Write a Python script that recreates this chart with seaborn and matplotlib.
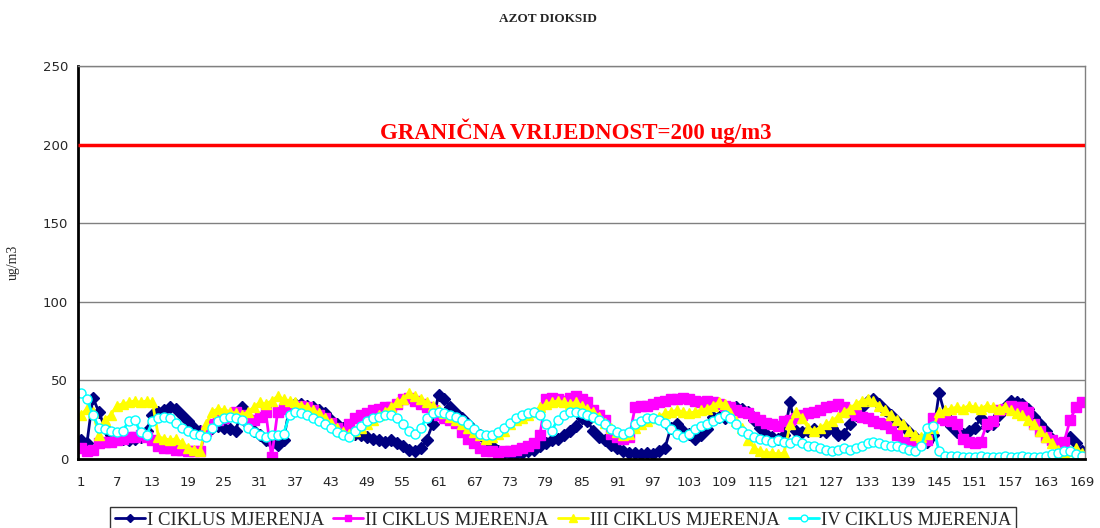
"""
AZOT DIOKSID - four measurement cycles vs. limit value.

Run: python plot.py
"""
import matplotlib
matplotlib.use("Agg")
import matplotlib.pyplot as plt
import numpy as np
import pandas as pd
import seaborn as sns

TITLE = "AZOT DIOKSID"
Y_LABEL = "ug/m3"
LIMIT = 200
LIMIT_TEXT = "GRANIČNA VRIJEDNOST=200 ug/m3"

series_names = ["I CIKLUS MJERENJA", "II CIKLUS MJERENJA",
                "III CIKLUS MJERENJA", "IV CIKLUS MJERENJA"]

cycle1 = [12, 10, 39, 30, 20, 15, 14, 13, 12, 13, 14, 18, 28, 30, 31, 33, 32, 28, 24, 20,
          18, 18, 20, 21, 20, 19, 18, 33, 22, 18, 15, 12, 10, 9, 12, 33, 35, 35, 34, 33,
          31, 29, 25, 22, 20, 17, 16, 15, 14, 13, 12, 11, 12, 10, 8, 6, 5, 7, 12, 22,
          41, 38, 33, 29, 26, 22, 18, 15, 12, 8, 5, 4, 3, 3, 4, 5, 6, 8, 10, 12,
          13, 15, 18, 21, 26, 24, 18, 14, 12, 9, 7, 5, 4, 4, 3, 4, 3, 5, 7, 20,
          22, 18, 16, 13, 15, 19, 27, 27, 26, 30, 33, 32, 30, 25, 20, 16, 14, 13, 15, 36,
          18, 17, 18, 19, 18, 17, 20, 15, 16, 22, 28, 33, 37, 38, 35, 31, 28, 24, 21, 17,
          14, 12, 11, 15, 42, 28, 21, 17, 16, 18, 20, 26, 21, 22, 28, 33, 37, 36, 35, 32,
          27, 22, 18, 13, 9, 10, 14, 10, 5]
cycle2 = [7, 5, 6, 10, 11, 11, 12, 13, 14, 14, 15, 14, 12, 8, 7, 7, 6, 6, 5, 5,
          5, 18, 22, 25, 26, 28, 30, 28, 25, 25, 27, 30, 1, 30, 32, 33, 33, 34, 33, 31,
          28, 26, 23, 20, 18, 22, 26, 28, 29, 31, 32, 33, 33, 35, 38, 39, 37, 35, 33, 31,
          28, 26, 25, 23, 17, 13, 10, 7, 5, 5, 4, 5, 5, 6, 7, 8, 10, 15, 38, 39,
          38, 37, 39, 40, 38, 36, 31, 28, 25, 16, 14, 13, 14, 33, 34, 34, 35, 36, 37, 38,
          38, 39, 38, 37, 36, 37, 36, 35, 34, 33, 31, 30, 29, 27, 25, 23, 22, 21, 24, 25,
          26, 28, 29, 30, 31, 33, 34, 35, 33, 30, 28, 27, 26, 24, 23, 22, 20, 15, 11, 10,
          9, 11, 12, 26, 26, 25, 24, 22, 13, 11, 10, 11, 22, 24, 31, 32, 34, 33, 33, 30,
          22, 18, 14, 12, 10, 11, 25, 33, 36]
cycle3 = [28, 32, 30, 15, 25, 28, 34, 35, 36, 37, 36, 37, 36, 14, 13, 12, 13, 10, 7, 6,
          5, 22, 30, 32, 31, 30, 29, 28, 30, 33, 36, 35, 37, 40, 38, 37, 36, 34, 33, 31,
          29, 26, 23, 20, 17, 16, 18, 20, 22, 25, 28, 30, 33, 36, 38, 42, 40, 38, 36, 34,
          31, 29, 27, 25, 22, 20, 17, 15, 13, 14, 16, 18, 22, 25, 26, 28, 30, 33, 35, 36,
          37, 36, 35, 36, 34, 32, 30, 27, 23, 20, 17, 15, 16, 20, 22, 24, 26, 27, 29, 30,
          31, 30, 29, 30, 31, 32, 34, 36, 35, 29, 24, 20, 12, 7, 5, 4, 4, 3, 4, 22,
          30, 26, 20, 18, 20, 22, 24, 27, 30, 32, 35, 37, 38, 37, 34, 31, 28, 25, 22, 18,
          15, 14, 16, 20, 30, 31, 32, 33, 32, 34, 33, 32, 34, 33, 32, 33, 31, 29, 28, 25,
          22, 18, 14, 10, 6, 4, 5, 7, 4]
cycle4 = [42, 38, 28, 20, 19, 18, 17, 18, 24, 25, 17, 15, 24, 26, 27, 26, 23, 20, 18, 16,
          15, 14, 20, 24, 26, 27, 26, 25, 20, 17, 15, 14, 15, 15, 16, 28, 30, 29, 28, 26,
          24, 22, 20, 17, 15, 14, 18, 21, 24, 26, 27, 28, 28, 26, 22, 18, 16, 20, 26, 29,
          30, 29, 28, 27, 25, 22, 19, 16, 15, 15, 17, 20, 23, 26, 28, 29, 30, 28, 22, 18,
          25, 28, 30, 30, 29, 28, 27, 25, 22, 19, 17, 16, 17, 22, 24, 26, 26, 25, 23, 19,
          16, 14, 16, 19, 21, 22, 24, 26, 28, 26, 22, 18, 16, 14, 13, 12, 11, 12, 11, 10,
          12, 10, 8, 8, 7, 6, 5, 6, 7, 6, 7, 8, 10, 11, 10, 9, 8, 8, 7, 6,
          5, 8, 20, 21, 5, 2, 2, 2, 1, 1, 1, 2, 1, 1, 1, 2, 1, 1, 2, 1,
          1, 1, 2, 3, 4, 5, 5, 3, 2]

y_ticks = [0, 50, 100, 150, 200, 250]

colors = ["#000080", "#FF00FF", "#FFFF00", "#00FFFF"]
markers = ["D", "s", "^", "o"]
msizes = [6, 6.5, 7.5, 6.5]


def main():
    sns.set_style("white")
    plt.rcParams["font.family"] = ["Liberation Serif", "DejaVu Serif"]

    n = len(cycle1)
    x = np.arange(1, n + 1)
    df = pd.DataFrame({"mjerenje": x, series_names[0]: cycle1, series_names[1]: cycle2,
                       series_names[2]: cycle3, series_names[3]: cycle4})

    fig = plt.figure(figsize=(11, 5.28), dpi=100)
    ax = fig.add_axes([0.0709, 0.1307, 0.9155, 0.7443])

    for name, c, m, ms in zip(series_names, colors, markers, msizes):
        face = "white" if m == "o" else c
        sns.lineplot(data=df, x="mjerenje", y=name, ax=ax, color=c, lw=2,
                     marker=m, markersize=ms, markerfacecolor=face,
                     markeredgecolor=c, markeredgewidth=1, label=name)

    ax.hlines(LIMIT, 0.5, n + 0.5, color="red", lw=2.5, zorder=5)
    ax.text(84, 208.5, LIMIT_TEXT, color="red", fontsize=16.5, fontweight="bold",
            ha="center", va="center")

    ax.set_xlim(0.5, n + 0.5)
    ax.set_ylim(0, 250)
    ax.set_yticks(y_ticks)
    ax.yaxis.grid(True, color="#808080", lw=1)
    ax.set_axisbelow(True)

    ax.set_xticks(x[::6])
    ax.set_xticklabels([str(v) for v in x[::6]], fontfamily="DejaVu Sans", fontsize=9.5)
    ax.set_xticks(np.arange(0.5, n + 1), minor=True)
    ax.tick_params(axis="x", which="major", length=0, pad=12)
    ax.tick_params(axis="x", which="minor", length=4, width=1.5, color="black")
    ax.tick_params(axis="y", length=4, width=1.5, color="black", pad=3)
    for lab in ax.get_yticklabels():
        lab.set_fontfamily("DejaVu Sans")
        lab.set_fontsize(9.5)

    for side in ("left", "bottom"):
        ax.spines[side].set_color("black")
        ax.spines[side].set_linewidth(2)
    for side in ("top", "right"):
        ax.spines[side].set_color("#808080")
        ax.spines[side].set_linewidth(1)

    ax.set_xlabel("")
    ax.set_ylabel(Y_LABEL, fontsize=10)
    ax.yaxis.set_label_coords(-0.058, 0.5)
    fig.suptitle(TITLE, x=0.498, y=0.975, fontsize=9.5, fontweight="bold")

    handles, labels = ax.get_legend_handles_labels()
    ax.get_legend().remove()
    fig.legend(handles, labels, loc="upper center", bbox_to_anchor=(0.512, 0.040),
               ncol=4, frameon=True, fancybox=False, edgecolor="black",
               fontsize=13.5, handlelength=1.6, handletextpad=0.1, columnspacing=0.5,
               borderpad=0.25, borderaxespad=0, markerscale=0.75)

    fig.savefig("out.png", dpi=100)
    plt.close(fig)


if __name__ == "__main__":
    main()
